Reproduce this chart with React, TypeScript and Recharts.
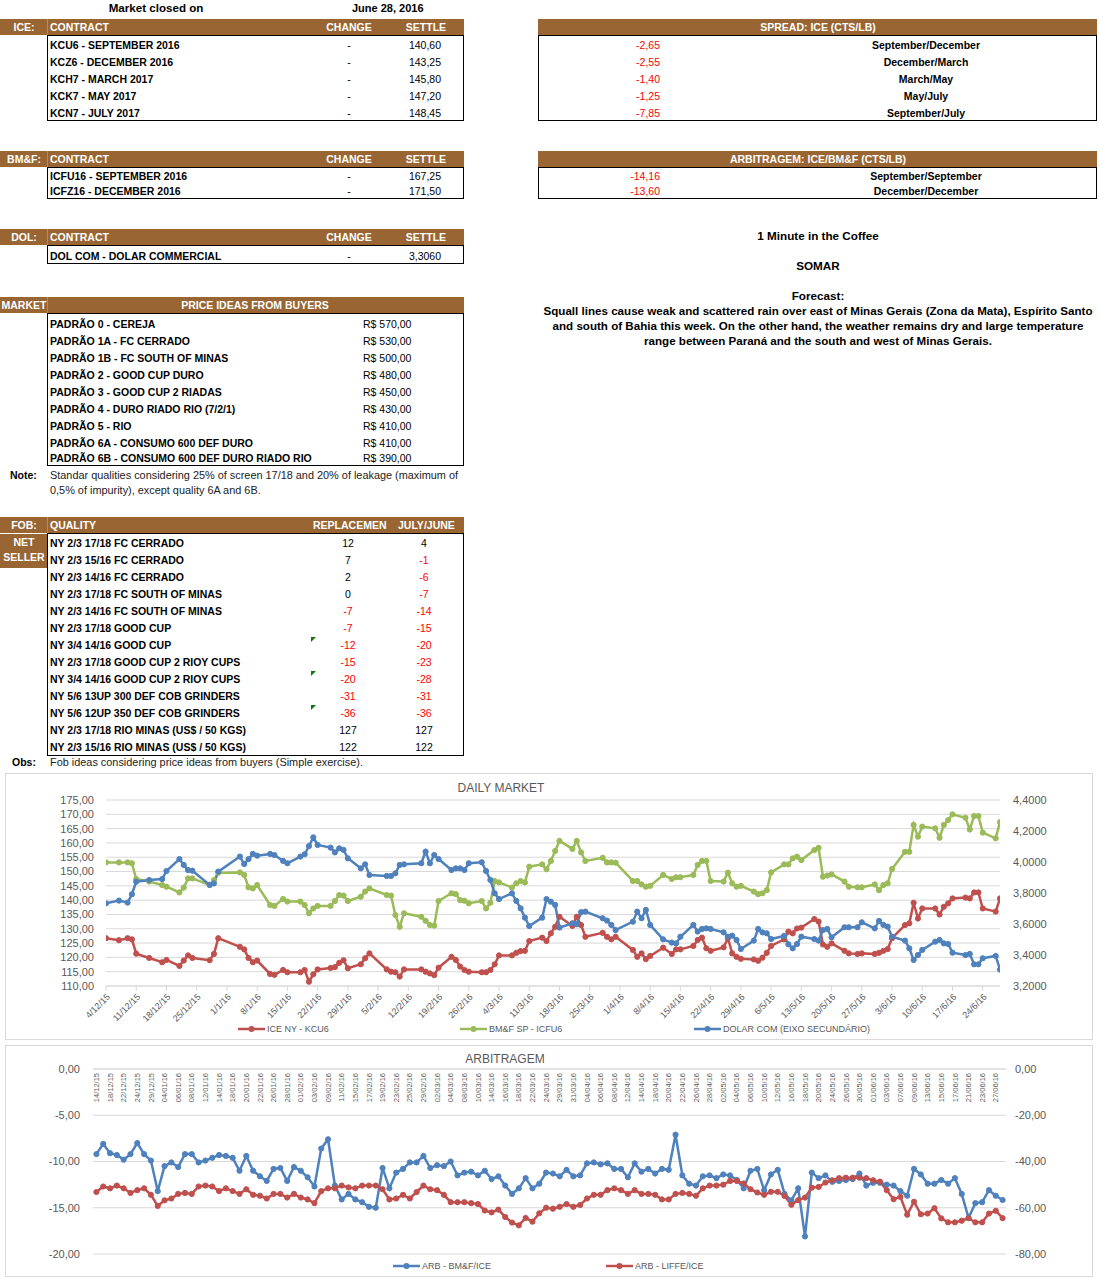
import React from "react";
import { LineChart, Line, XAxis, YAxis, CartesianGrid, Legend } from "recharts";

const BROWN = "#996633";
const NEG = "#ff0000";
const FONT = "'Liberation Sans', Arial, sans-serif";
const GRID = "#d9d9d9";
const AXIS_TXT = "#595959";
const C_RED = "#c0504d";
const C_GREEN = "#9bbb59";
const C_BLUE = "#4f81bd";

// ---- report tables ----
const iceContracts = ["KCU6 - SEPTEMBER 2016", "KCZ6 - DECEMBER 2016", "KCH7 - MARCH 2017", "KCK7 - MAY 2017", "KCN7 - JULY 2017"];
const iceSettle = ["140,60", "143,25", "145,80", "147,20", "148,45"];
const spreadValues = ["-2,65", "-2,55", "-1,40", "-1,25", "-7,85"];
const spreadLabels = ["September/December", "December/March", "March/May", "May/July", "September/July"];
const bmfContracts = ["ICFU16 - SEPTEMBER 2016", "ICFZ16 - DECEMBER 2016"];
const bmfSettle = ["167,25", "171,50"];
const arbValues = ["-14,16", "-13,60"];
const arbLabels = ["September/September", "December/December"];
const priceQualities = [
  "PADRÃO 0 - CEREJA",
  "PADRÃO 1A - FC CERRADO",
  "PADRÃO 1B - FC SOUTH OF MINAS",
  "PADRÃO 2 - GOOD CUP DURO",
  "PADRÃO 3 - GOOD CUP 2 RIADAS",
  "PADRÃO 4 - DURO RIADO RIO (7/2/1)",
  "PADRÃO 5 - RIO",
  "PADRÃO 6A - CONSUMO 600 DEF DURO",
  "PADRÃO 6B - CONSUMO 600 DEF DURO RIADO RIO",
];
const priceValues = ["R$ 570,00", "R$ 530,00", "R$ 500,00", "R$ 480,00", "R$ 450,00", "R$ 430,00", "R$ 410,00", "R$ 410,00", "R$ 390,00"];
const fobQualities = [
  "NY 2/3 17/18 FC CERRADO",
  "NY 2/3 15/16 FC CERRADO",
  "NY 2/3 14/16 FC CERRADO",
  "NY 2/3 17/18 FC SOUTH OF MINAS",
  "NY 2/3 14/16 FC SOUTH OF MINAS",
  "NY 2/3 17/18 GOOD CUP",
  "NY 3/4 14/16 GOOD CUP",
  "NY 2/3 17/18 GOOD CUP 2 RIOY CUPS",
  "NY 3/4 14/16 GOOD CUP 2 RIOY CUPS",
  "NY 5/6 13UP 300 DEF COB GRINDERS",
  "NY 5/6 12UP 350 DEF COB GRINDERS",
  "NY 2/3 17/18 RIO MINAS (US$ / 50 KGS)",
  "NY 2/3 15/16 RIO MINAS (US$ / 50 KGS)",
];
const fobReplacement = [12, 7, 2, 0, -7, -7, -12, -15, -20, -31, -36, 127, 122];
const fobJulyJune = [4, -1, -6, -7, -14, -15, -20, -23, -28, -31, -36, 127, 122];
const fobFlagged = [6, 8, 10];

// ---- DAILY MARKET (days since 4/12/15) ----
const dailyTickLabels = [
  "4/12/15", "11/12/15", "18/12/15", "25/12/15", "1/1/16", "8/1/16", "15/1/16", "22/1/16", "29/1/16", "5/2/16",
  "12/2/16", "19/2/16", "26/2/16", "4/3/16", "11/3/16", "18/3/16", "25/3/16", "1/4/16", "8/4/16", "15/4/16",
  "22/4/16", "29/4/16", "6/5/16", "13/5/16", "20/5/16", "27/5/16", "3/6/16", "10/6/16", "17/6/16", "24/6/16",
];
const dailyDays = [
  0, 3, 5, 6, 7,
  10, 13, 14, 17, 18, 19, 20,
  24, 25, 26,
  31, 32, 33, 34, 35,
  38, 39, 41, 42,
  45, 46, 47, 48, 49,
  52, 53, 54, 55, 56,
  59, 60, 61,
  65, 66, 67, 68, 69,
  73, 74, 75, 76, 77,
  80, 81, 82, 83, 84,
  87, 88, 89, 90, 91,
  94, 95, 96, 97, 98,
  101, 102, 103, 104, 105,
  108, 109, 110, 111,
  115, 116, 117, 118,
  122, 123, 124, 125, 126,
  129, 131, 132, 133,
  136, 137, 138, 139, 140,
  143, 144, 145, 146, 147,
  150, 151, 152, 153, 154,
  157, 158, 159, 160, 161,
  164, 165, 166, 167, 168,
  171, 172, 174, 175,
  178, 179, 180, 181, 182,
  185, 186, 187, 188, 189,
  192, 193, 194, 195, 196,
  199, 200, 201, 202, 203,
  206, 207,
];
const iceKCU6 = [
  126.7, 126.0, 126.7, 126.3, 121.3,
  119.8, 118.3, 119.1, 117.0, 118.9, 120.7, 119.8,
  119.0, 121.2, 126.7,
  123.7, 122.8, 119.8, 118.3, 118.9,
  114.2, 113.9, 115.6, 114.8,
  114.8, 115.6, 111.5, 114.1, 115.8,
  116.3, 116.6, 118.1, 119.0, 116.2,
  117.6, 119.7, 121.4,
  115.8, 115.0, 114.8, 113.3, 115.8,
  115.8, 115.0, 114.4, 113.8, 116.4,
  120.2, 119.1, 116.8, 115.6, 115.0,
  114.8, 114.8, 115.6, 117.6, 120.7,
  120.7, 121.6, 122.2, 122.3, 125.7,
  126.9, 125.7, 128.4, 130.7, 134.2,
  131.0, 134.2, 131.3, 127.2,
  128.6, 127.2, 126.3, 127.2,
  122.6, 120.2, 121.4, 119.4, 120.5,
  123.4, 121.2, 122.8, 122.8,
  124.0, 126.1, 126.9, 123.2, 122.3,
  123.5, 126.7, 121.4, 120.2, 119.5,
  119.3, 118.8, 119.9, 121.6, 124.0,
  126.3, 129.0, 128.4, 130.1, 130.4,
  133.4, 132.5, 124.5, 123.7, 124.9,
  122.3, 121.4, 121.2, 121.4,
  121.2, 121.6, 122.3, 122.9, 126.7,
  131.3, 131.9, 139.1, 133.6, 137.1,
  137.1, 135.0, 137.7, 138.9, 140.6,
  140.9, 140.6, 142.7, 142.7, 137.1,
  136.0, 140.6,
];
const bmfICFU6 = [
  153.2, 153.2, 153.2, 152.9, 147.4,
  146.5, 145.3, 144.7, 142.7, 144.4, 147.6, 147.6,
  145.3, 147.0, 149.6,
  149.7, 148.8, 144.5, 144.1, 145.3,
  138.3, 138.0, 140.4, 139.5,
  139.5, 138.3, 135.4, 137.1, 138.0,
  138.0, 139.7, 141.8, 141.6, 139.7,
  141.2, 143.0, 144.1,
  141.8, 141.6, 134.8, 130.7, 135.4,
  134.2, 132.8, 131.3, 131.1, 139.7,
  142.4, 142.1, 140.0, 139.8, 138.9,
  139.7, 137.1, 139.1, 146.7, 146.2,
  144.4, 145.9, 146.7, 146.2, 151.7,
  152.5, 150.8, 153.7, 157.2, 160.7,
  157.9, 160.7, 156.7, 153.7,
  154.8, 153.2, 153.2, 153.1,
  146.7, 146.7, 145.5, 144.7, 145.0,
  148.8, 147.4, 148.0, 148.0,
  148.8, 152.3, 153.7, 153.7, 146.7,
  146.5, 149.6, 145.9, 144.7, 145.0,
  143.0, 142.1, 142.4, 143.5, 149.7,
  152.5, 152.5, 154.6, 155.2, 154.0,
  157.5, 158.3, 148.2, 148.6, 149.0,
  146.5, 144.7, 144.5, 144.5,
  145.5, 143.5, 145.3, 145.9, 150.9,
  156.9, 156.9, 166.3, 162.2, 165.7,
  165.1, 161.8, 166.3, 168.0, 170.0,
  168.8, 164.7, 169.4, 169.4, 163.6,
  161.6, 167.25,
];
const dolarCom = [
  3.733, 3.751, 3.738, 3.792, 3.873,
  3.884, 3.890, 3.942, 4.019, 3.981, 3.948, 3.944,
  3.852, 3.862, 3.938,
  4.035, 3.987, 4.019, 4.052, 4.041,
  4.052, 4.045, 4.007, 3.992,
  4.035, 4.050, 4.103, 4.159, 4.110,
  4.093, 4.062, 4.088, 4.078, 4.024,
  3.959, 3.985, 3.916,
  3.910, 3.910, 3.927, 3.981, 3.985,
  3.992, 4.067, 3.992, 4.045, 4.019,
  3.948, 3.959, 3.959, 3.948, 3.992,
  3.998, 3.942, 3.884, 3.798, 3.761,
  3.798, 3.749, 3.701, 3.641, 3.587,
  3.641, 3.761, 3.744, 3.723, 3.577,
  3.605, 3.598, 3.676, 3.680,
  3.637, 3.622, 3.594, 3.561,
  3.615, 3.680, 3.637, 3.691, 3.594,
  3.501, 3.480, 3.475, 3.518,
  3.594, 3.551, 3.568, 3.572, 3.568,
  3.546, 3.518, 3.525, 3.497, 3.439,
  3.493, 3.568, 3.546, 3.540, 3.503,
  3.523, 3.469, 3.443, 3.471, 3.518,
  3.503, 3.493, 3.561, 3.568, 3.514,
  3.579, 3.579, 3.579, 3.611,
  3.572, 3.620, 3.594, 3.583, 3.518,
  3.493, 3.443, 3.368, 3.400, 3.433,
  3.486, 3.497, 3.475, 3.471, 3.415,
  3.400, 3.407, 3.340, 3.340, 3.379,
  3.394, 3.306,
];
const dailyLeftTicks = [110, 115, 120, 125, 130, 135, 140, 145, 150, 155, 160, 165, 170, 175];
const dailyRightTicks = [3.2, 3.4, 3.6, 3.8, 4.0, 4.2, 4.4];

// ---- ARBITRAGEM (one category per trading day, every 2nd labelled) ----
const arbTickLabels = [
  "14/12/15", "18/12/15", "22/12/15", "24/12/15", "29/12/15", "04/01/16", "06/01/16", "08/01/16", "12/01/16", "14/01/16",
  "18/01/16", "20/01/16", "22/01/16", "26/01/16", "28/01/16", "01/02/16", "03/02/16", "09/02/16", "11/02/16", "15/02/16",
  "17/02/16", "19/02/16", "23/02/16", "25/02/16", "29/02/16", "02/03/16", "04/03/16", "08/03/16", "10/03/16", "14/03/16",
  "16/03/16", "18/03/16", "22/03/16", "24/03/16", "29/03/16", "31/03/16", "04/04/16", "06/04/16", "08/04/16", "12/04/16",
  "14/04/16", "18/04/16", "20/04/16", "22/04/16", "26/04/16", "28/04/16", "02/05/16", "04/05/16", "06/05/16", "10/05/16",
  "12/05/16", "16/05/16", "18/05/16", "20/05/16", "24/05/16", "26/05/16", "30/05/16", "01/06/16", "03/06/16", "07/06/16",
  "09/06/16", "13/06/16", "15/06/16", "17/06/16", "21/06/16", "23/06/16", "27/06/16",
];
const arbBmfIce = [
  -9.2, -8.1, -9.1, -9.3, -9.8, -9.2, -8.0, -9.2, -9.9, -13.2,
  -10.5, -10.1, -10.6, -9.2, -9.2, -10.1, -9.9, -9.6, -9.3, -9.4,
  -9.6, -11.0, -9.4, -11.0, -11.6, -12.1, -10.8, -10.7, -12.1, -10.6,
  -11.0, -11.7, -12.7, -8.6, -7.6, -12.6, -14.1, -13.5, -14.1, -14.4,
  -14.9, -15.0, -10.7, -12.9, -11.2, -10.8, -10.1, -10.1, -9.4, -10.7,
  -10.4, -10.5, -10.0, -11.5, -11.2, -11.1, -11.5, -11.0, -11.9, -11.6,
  -12.6, -13.5, -12.9, -11.8, -12.9, -12.4, -11.2, -11.3, -11.6, -10.9,
  -11.6, -11.5, -10.2, -10.1, -10.3, -10.2, -10.8, -10.8, -11.7, -10.2,
  -11.1, -10.8, -11.3, -10.8, -10.9, -7.1, -11.5, -12.4, -12.6, -11.6,
  -11.5, -11.8, -11.4, -11.5, -12.0, -12.9, -11.0, -10.8, -13.1, -11.4,
  -10.9, -13.5, -14.2, -12.9, -18.1, -11.2, -11.8, -11.5, -12.2, -12.1,
  -12.0, -11.9, -11.3, -12.6, -12.3, -12.3, -12.5, -12.6, -13.2, -13.7,
  -10.8, -11.4, -12.4, -12.4, -12.0, -12.4, -11.8, -13.5, -16.1, -14.5,
  -14.4, -13.1, -13.7, -14.16,
];
const arbLiffeIce = [
  -53.2, -50.8, -51.6, -50.4, -51.6, -53.6, -52.4, -51.6, -54.4, -59.2,
  -56.8, -56.0, -54.0, -53.6, -54.0, -50.8, -50.4, -50.8, -52.8, -51.6,
  -52.8, -54.0, -52.0, -54.4, -54.8, -56.0, -54.0, -54.0, -55.6, -54.0,
  -55.6, -56.4, -58.0, -52.8, -51.6, -51.6, -50.4, -51.2, -51.6, -50.4,
  -50.4, -50.4, -52.0, -56.4, -56.0, -54.4, -56.0, -53.2, -50.4, -52.0,
  -52.4, -54.4, -57.6, -57.6, -57.6, -58.0, -58.4, -61.2, -62.0, -60.8,
  -64.0, -66.4, -67.6, -64.4, -66.0, -62.4, -60.0, -60.4, -59.6, -58.4,
  -59.6, -58.8, -56.0, -54.4, -54.4, -52.4, -51.6, -52.4, -54.0, -52.4,
  -54.0, -54.0, -54.4, -56.4, -56.4, -54.0, -53.6, -54.0, -54.8, -51.6,
  -50.4, -50.4, -50.0, -48.4, -48.4, -49.5, -52.0, -53.4, -54.4, -53.1,
  -53.1, -54.9, -58.7, -56.7, -55.6, -51.3, -51.0, -49.1, -48.1, -47.2,
  -47.0, -47.0, -47.0, -47.2, -48.1, -48.7, -52.4, -56.3, -55.3, -63.0,
  -57.4, -62.8, -62.5, -60.2, -64.6, -66.3, -66.3, -65.6, -64.5, -66.3,
  -66.3, -62.5, -61.3, -64.5,
];
const arbLeftTicks = [0, -5, -10, -15, -20];
const arbRightTicks = [0, -20, -40, -60, -80];

const dailyData = dailyDays.map((d, i) => ({ day: d, ice: iceKCU6[i], bmf: bmfICFU6[i], dol: dolarCom[i] }));
const arbData = arbBmfIce.map((v, i) => ({ idx: i, bmf: v, liffe: arbLiffeIce[i] }));

const comma = (v: number, digits: number) => v.toFixed(digits).replace(".", ",");

// ---------- small layout helpers ----------
type TextProps = {
  x: number;
  y: number;
  w?: number;
  align?: "left" | "center" | "right";
  color?: string;
  bold?: boolean;
  size?: number;
  children: React.ReactNode;
};

function T({ x, y, w = 400, align = "left", color = "#000", bold = true, size = 10.5, children }: TextProps) {
  let left = x;
  if (align === "center") left = x - w / 2;
  if (align === "right") left = x - w;
  return (
    <div
      style={{
        position: "absolute",
        left,
        top: y - 7,
        width: w,
        height: 14,
        lineHeight: "14px",
        fontSize: size,
        fontWeight: bold ? 700 : 400,
        color,
        textAlign: align,
        whiteSpace: "nowrap",
      }}
    >
      {children}
    </div>
  );
}

function HeaderBar({ x, y, w, split }: { x: number; y: number; w: number; split?: number }) {
  return (
    <>
      <div style={{ position: "absolute", left: x, top: y, width: w, height: 16, background: BROWN }} />
      {split !== undefined && (
        <div style={{ position: "absolute", left: split, top: y, width: 1, height: 16, background: "#b8895a" }} />
      )}
    </>
  );
}

function Box({ x, y, w, h }: { x: number; y: number; w: number; h: number }) {
  return (
    <div
      style={{ position: "absolute", left: x, top: y, width: w, height: h, border: "1px solid #000", boxSizing: "border-box" }}
    />
  );
}

const W = "#fff";

// ---------- charts ----------
function LegendItem({ x, color, label }: { x: number; color: string; label: string }) {
  return (
    <div style={{ position: "absolute", left: x, top: 0, height: 14, display: "flex", alignItems: "center" }}>
      <svg width={28} height={14}>
        <line x1={0} y1={7} x2={27} y2={7} stroke={color} strokeWidth={2.5} />
        <circle cx={13.5} cy={7} r={3} fill={color} />
      </svg>
      <span style={{ fontSize: 9, color: AXIS_TXT, fontFamily: FONT, marginLeft: 1 }}>{label}</span>
    </div>
  );
}

function ArbTick(props: any) {
  const { x, y, payload } = props;
  const label = arbTickLabels[Math.round(payload.value / 2)];
  const ty = y + 4;
  return (
    <text
      x={x}
      y={ty}
      transform={`rotate(-90, ${x}, ${ty})`}
      textAnchor="end"
      dy="0.35em"
      fontSize={7.5}
      fill={AXIS_TXT}
      fontFamily={FONT}
    >
      {label}
    </text>
  );
}

function DailyMarketChart() {
  const dot = (c: string) => ({ r: 2.6, fill: c, stroke: c, strokeWidth: 1 });
  return (
    <div style={{ position: "absolute", left: 5, top: 773, width: 1088, height: 267 }}>
      <div style={{ position: "absolute", inset: 0, border: `1px solid ${GRID}` }} />
      <div
        style={{ position: "absolute", left: 396, top: 8, width: 200, textAlign: "center", fontSize: 12, color: AXIS_TXT, fontFamily: FONT }}
      >
        DAILY MARKET
      </div>
      <LineChart width={1088} height={267} data={dailyData} margin={{ top: 27, right: 0, bottom: 0, left: 0 }}>
        <CartesianGrid vertical={false} stroke={GRID} />
        <XAxis
          dataKey="day"
          type="number"
          domain={[0, 207]}
          ticks={dailyTickLabels.map((_, i) => i * 7)}
          interval={0}
          height={54}
          tickFormatter={(v: number) => dailyTickLabels[Math.round(v / 7)]}
          angle={-45}
          textAnchor="end"
          tick={{ fontSize: 9, fill: AXIS_TXT, fontFamily: FONT }}
          tickSize={5}
          tickMargin={2}
          tickLine={{ stroke: GRID }}
          axisLine={{ stroke: GRID }}
          allowDataOverflow
        />
        <YAxis
          domain={[110, 175]}
          ticks={dailyLeftTicks}
          interval={0}
          width={101}
          tickFormatter={(v: number) => comma(v, 2)}
          axisLine={false}
          tickLine={false}
          tickMargin={6}
          tick={{ fontSize: 11, fill: AXIS_TXT, fontFamily: FONT }}
          allowDataOverflow
        />
        <YAxis
          yAxisId="right"
          orientation="right"
          domain={[3.2, 4.4]}
          ticks={dailyRightTicks}
          interval={0}
          width={93}
          tickFormatter={(v: number) => comma(v, 4)}
          axisLine={false}
          tickLine={false}
          tickMargin={7}
          tick={{ fontSize: 11, fill: AXIS_TXT, fontFamily: FONT }}
          allowDataOverflow
        />
        <Line dataKey="ice" name="ICE NY - KCU6" stroke={C_RED} strokeWidth={2.5} dot={dot(C_RED)} activeDot={false} isAnimationActive={false} />
        <Line dataKey="bmf" name="BM&F SP - ICFU6" stroke={C_GREEN} strokeWidth={2.5} dot={dot(C_GREEN)} activeDot={false} isAnimationActive={false} />
        <Line
          yAxisId="right"
          dataKey="dol"
          name="DOLAR COM (EIXO SECUNDÁRIO)"
          stroke={C_BLUE}
          strokeWidth={2.5}
          dot={dot(C_BLUE)}
          activeDot={false}
          isAnimationActive={false}
        />
        <Legend
          layout="horizontal"
          verticalAlign="middle"
          align="center"
          wrapperStyle={{ left: 0, top: 249, width: 1088, height: 14 }}
          content={() => (
            <div style={{ position: "relative", width: 1088, height: 14 }}>
              <LegendItem x={233} color={C_RED} label="ICE NY - KCU6" />
              <LegendItem x={455} color={C_GREEN} label="BM&F SP - ICFU6" />
              <LegendItem x={689} color={C_BLUE} label="DOLAR COM (EIXO SECUNDÁRIO)" />
            </div>
          )}
        />
      </LineChart>
    </div>
  );
}

function ArbitragemChart() {
  const dot = (c: string) => ({ r: 2.6, fill: c, stroke: c, strokeWidth: 1 });
  return (
    <div style={{ position: "absolute", left: 5, top: 1045, width: 1088, height: 232 }}>
      <div style={{ position: "absolute", inset: 0, border: `1px solid ${GRID}` }} />
      <div
        style={{ position: "absolute", left: 400, top: 7, width: 200, textAlign: "center", fontSize: 12, color: AXIS_TXT, fontFamily: FONT }}
      >
        ARBITRAGEM
      </div>
      <LineChart width={1088} height={232} data={arbData} margin={{ top: 23, right: 0, bottom: 23, left: 0 }}>
        <CartesianGrid vertical={false} stroke={GRID} />
        <XAxis
          dataKey="idx"
          type="number"
          orientation="top"
          domain={[-0.5, 133.5]}
          ticks={arbTickLabels.map((_, i) => i * 2)}
          interval={0}
          height={1}
          tickSize={0}
          tickMargin={0}
          tickLine={false}
          axisLine={{ stroke: GRID }}
          tick={(p: any) => <ArbTick {...p} />}
          allowDataOverflow
        />
        <YAxis
          domain={[-20, 0]}
          ticks={arbLeftTicks}
          interval={0}
          width={88}
          tickFormatter={(v: number) => comma(v, 2)}
          axisLine={false}
          tickLine={false}
          tickMargin={7}
          tick={{ fontSize: 11, fill: AXIS_TXT, fontFamily: FONT }}
          allowDataOverflow
        />
        <YAxis
          yAxisId="right"
          orientation="right"
          domain={[-80, 0]}
          ticks={arbRightTicks}
          interval={0}
          width={87}
          tickFormatter={(v: number) => comma(v, 2)}
          axisLine={false}
          tickLine={false}
          tickMargin={3}
          tick={{ fontSize: 11, fill: AXIS_TXT, fontFamily: FONT }}
          allowDataOverflow
        />
        <Line dataKey="bmf" name="ARB - BM&F/ICE" stroke={C_BLUE} strokeWidth={2.5} dot={dot(C_BLUE)} activeDot={false} isAnimationActive={false} />
        <Line
          yAxisId="right"
          dataKey="liffe"
          name="ARB - LIFFE/ICE"
          stroke={C_RED}
          strokeWidth={2.5}
          dot={dot(C_RED)}
          activeDot={false}
          isAnimationActive={false}
        />
        <Legend
          layout="horizontal"
          verticalAlign="middle"
          align="center"
          wrapperStyle={{ left: 0, top: 214, width: 1088, height: 14 }}
          content={() => (
            <div style={{ position: "relative", width: 1088, height: 14 }}>
              <LegendItem x={388} color={C_BLUE} label="ARB - BM&F/ICE" />
              <LegendItem x={601} color={C_RED} label="ARB - LIFFE/ICE" />
            </div>
          )}
        />
      </LineChart>
    </div>
  );
}

export default function App() {
  const iceRowsY = iceContracts.map((_, i) => 44.5 + i * 17.2);
  const priceRowsY = [324, 341, 358, 375, 392, 409, 426, 443, 458];
  return (
    <div
      style={{
        position: "absolute",
        left: 0,
        top: 0,
        width: 1099,
        height: 1280,
        background: "#fff",
        overflow: "hidden",
        fontFamily: FONT,
      }}
    >
      <T x={156} y={8} w={160} align="center" size={11.6}>Market closed on</T>
      <T x={352} y={8} size={11}>June 28, 2016</T>

      {/* ICE */}
      <HeaderBar x={0} y={19} w={464} split={47} />
      <T x={24} y={27} w={47} align="center" color={W}>ICE:</T>
      <T x={50} y={27} color={W}>CONTRACT</T>
      <T x={349} y={27} w={80} align="center" color={W}>CHANGE</T>
      <T x={426} y={27} w={70} align="center" color={W}>SETTLE</T>
      <Box x={47} y={35} w={417} h={86} />
      {iceContracts.map((c, i) => (
        <React.Fragment key={c}>
          <T x={50} y={iceRowsY[i]}>{c}</T>
          <T x={349} y={iceRowsY[i]} w={30} align="center" bold={false}>-</T>
          <T x={441} y={iceRowsY[i]} w={80} align="right" bold={false}>{iceSettle[i]}</T>
        </React.Fragment>
      ))}

      {/* SPREAD */}
      <HeaderBar x={538} y={19} w={559} />
      <T x={818} y={27} w={300} align="center" color={W}>SPREAD: ICE (CTS/LB)</T>
      <Box x={538} y={35} w={559} h={86} />
      {spreadValues.map((v, i) => (
        <React.Fragment key={v + i}>
          <T x={660} y={iceRowsY[i]} w={80} align="right" color={NEG} bold={false}>{v}</T>
          <T x={926} y={iceRowsY[i]} w={200} align="center">{spreadLabels[i]}</T>
        </React.Fragment>
      ))}

      {/* BM&F */}
      <HeaderBar x={0} y={151} w={464} split={47} />
      <T x={24} y={159} w={47} align="center" color={W}>BM&amp;F:</T>
      <T x={50} y={159} color={W}>CONTRACT</T>
      <T x={349} y={159} w={80} align="center" color={W}>CHANGE</T>
      <T x={426} y={159} w={70} align="center" color={W}>SETTLE</T>
      <Box x={47} y={167} w={417} h={32} />
      {bmfContracts.map((c, i) => (
        <React.Fragment key={c}>
          <T x={50} y={176 + i * 15}>{c}</T>
          <T x={349} y={176 + i * 15} w={30} align="center" bold={false}>-</T>
          <T x={441} y={176 + i * 15} w={80} align="right" bold={false}>{bmfSettle[i]}</T>
        </React.Fragment>
      ))}

      {/* ARBITRAGEM table */}
      <HeaderBar x={538} y={151} w={559} />
      <T x={818} y={159} w={300} align="center" color={W}>ARBITRAGEM: ICE/BM&amp;F (CTS/LB)</T>
      <Box x={538} y={167} w={559} h={32} />
      {arbValues.map((v, i) => (
        <React.Fragment key={v}>
          <T x={660} y={176 + i * 15} w={80} align="right" color={NEG} bold={false}>{v}</T>
          <T x={926} y={176 + i * 15} w={200} align="center">{arbLabels[i]}</T>
        </React.Fragment>
      ))}

      {/* DOL */}
      <HeaderBar x={0} y={229} w={464} split={47} />
      <T x={24} y={237} w={47} align="center" color={W}>DOL:</T>
      <T x={50} y={237} color={W}>CONTRACT</T>
      <T x={349} y={237} w={80} align="center" color={W}>CHANGE</T>
      <T x={426} y={237} w={70} align="center" color={W}>SETTLE</T>
      <Box x={47} y={245} w={417} h={19} />
      <T x={50} y={255.5}>DOL COM - DOLAR COMMERCIAL</T>
      <T x={349} y={255.5} w={30} align="center" bold={false}>-</T>
      <T x={441} y={255.5} w={80} align="right" bold={false}>3,3060</T>

      {/* forecast */}
      <T x={818} y={236} w={300} align="center" size={11.7}>1 Minute in the Coffee</T>
      <T x={818} y={266} w={300} align="center" size={11.7}>SOMAR</T>
      <T x={818} y={296} w={300} align="center" size={11.7}>Forecast:</T>
      <div
        style={{
          position: "absolute",
          left: 508,
          top: 303,
          width: 620,
          textAlign: "center",
          lineHeight: "15px",
          fontSize: 11.6,
          fontWeight: 700,
          whiteSpace: "nowrap",
        }}
      >
        Squall lines cause weak and scattered rain over east of Minas Gerais (Zona da Mata), Espírito Santo
        <br />
        and south of Bahia this week. On the other hand, the weather remains dry and large temperature
        <br />
        range between Paraná and the south and west of Minas Gerais.
      </div>

      {/* PRICE IDEAS */}
      <HeaderBar x={0} y={297} w={464} split={47} />
      <T x={24} y={305} w={47} align="center" color={W}>MARKET</T>
      <T x={255} y={305} w={300} align="center" color={W}>PRICE IDEAS FROM BUYERS</T>
      <Box x={47} y={313} w={417} h={153} />
      {priceQualities.map((q, i) => (
        <React.Fragment key={q}>
          <T x={50} y={priceRowsY[i]}>{q}</T>
          <T x={363} y={priceRowsY[i]} bold={false} w={90}>{priceValues[i]}</T>
        </React.Fragment>
      ))}
      <T x={10} y={475}>Note:</T>
      <T x={50} y={475} bold={false} color="#222" size={10.9}>
        Standar qualities considering 25% of screen 17/18 and 20% of leakage (maximum of
      </T>
      <T x={50} y={490} bold={false} color="#222" size={10.9}>0,5% of impurity), except quality 6A and 6B.</T>

      {/* FOB */}
      <HeaderBar x={0} y={517} w={464} split={47} />
      <T x={24} y={525} w={47} align="center" color={W}>FOB:</T>
      <T x={50} y={525} color={W}>QUALITY</T>
      <T x={313} y={525} w={80} color={W}>REPLACEMEN</T>
      <T x={398} y={525} w={64} color={W}>JULY/JUNE</T>
      <div style={{ position: "absolute", left: 0, top: 534, width: 47, height: 34, background: BROWN }} />
      <T x={24} y={542} w={47} align="center" color={W}>NET</T>
      <T x={24} y={557} w={47} align="center" color={W}>SELLER</T>
      <Box x={47} y={533} w={417} h={223} />
      {fobQualities.map((q, i) => {
        const y = 543 + i * 17;
        return (
          <React.Fragment key={q}>
            <T x={50} y={y}>{q}</T>
            <T x={348} y={y} w={40} align="center" bold={false} color={fobReplacement[i] < 0 ? NEG : "#000"}>
              {fobReplacement[i]}
            </T>
            <T x={424} y={y} w={40} align="center" bold={false} color={fobJulyJune[i] < 0 ? NEG : "#000"}>
              {fobJulyJune[i]}
            </T>
            {fobFlagged.includes(i) && (
              <div
                style={{
                  position: "absolute",
                  left: 311,
                  top: y - 8,
                  width: 0,
                  height: 0,
                  borderTop: "5px solid #0a7a0a",
                  borderRight: "5px solid transparent",
                }}
              />
            )}
          </React.Fragment>
        );
      })}
      <T x={12} y={762}>Obs:</T>
      <T x={50} y={762} bold={false} color="#222" size={10.9}>Fob ideas considering price ideas from buyers (Simple exercise).</T>

      <DailyMarketChart />
      <ArbitragemChart />
    </div>
  );
}
